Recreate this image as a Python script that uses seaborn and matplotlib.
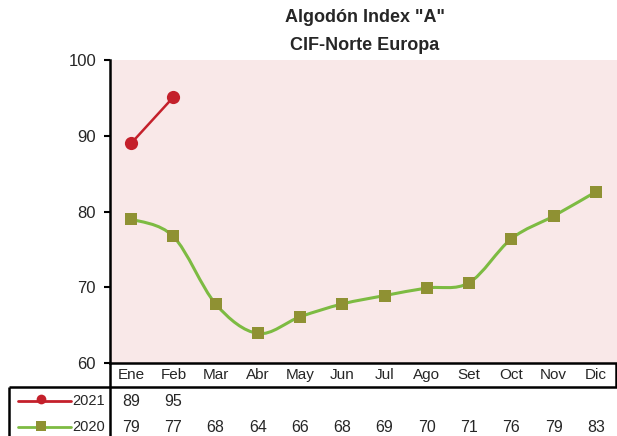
import numpy as np
import pandas as pd
import matplotlib
matplotlib.use("Agg")
import matplotlib.pyplot as plt
import seaborn as sns
from matplotlib.path import Path
from matplotlib.patches import PathPatch
from matplotlib.lines import Line2D
from matplotlib.transforms import blended_transform_factory

# datos
meses = ['Ene', 'Feb', 'Mar', 'Abr', 'May', 'Jun', 'Jul', 'Ago', 'Set', 'Oct', 'Nov', 'Dic']
valores_2021 = [89.0, 95.1]
valores_2020 = [79.0, 76.7, 67.8, 63.9, 66.1, 67.8, 68.9, 69.9, 70.6, 76.4, 79.4, 82.6]
tabla_2021 = ['89', '95']
tabla_2020 = ['79', '77', '68', '64', '66', '68', '69', '70', '71', '76', '79', '83']
series = ['2021', '2020']
yticks = [60, 70, 80, 90, 100]

ROJO = '#C4202B'
VERDE = '#7DBB42'
OLIVA = '#8F9133'
ROSA = '#F9E8E8'

sns.set_style("white")
plt.rcParams['font.family'] = ['Liberation Sans Narrow', 'Liberation Sans', 'DejaVu Sans']

W, H = 617, 436
fig = plt.figure(figsize=(W / 100, H / 100), dpi=100)
fig.patch.set_facecolor('white')

def fy(ypx):
    return 1 - ypx / H

def fx(xpx):
    return xpx / W

ax = fig.add_axes([fx(110), fy(363), fx(617) - fx(110), fy(60) - fy(363)])
ax.set_facecolor(ROSA)

df20 = pd.DataFrame({'x': np.arange(len(meses)), 'v': valores_2020})
df21 = pd.DataFrame({'x': np.arange(len(valores_2021)), 'v': valores_2021})

# curva suavizada (bezier tipo Excel) para 2020
pts = df20[['x', 'v']].to_numpy()
n = len(pts)
verts = [pts[0]]
codes = [Path.MOVETO]
for i in range(n - 1):
    p0 = pts[max(i - 1, 0)]
    p1 = pts[i]
    p2 = pts[i + 1]
    p3 = pts[min(i + 2, n - 1)]
    c1 = p1 + (p2 - p0) / 6
    c2 = p2 - (p3 - p1) / 6
    verts += [c1, c2, p2]
    codes += [Path.CURVE4] * 3
ax.add_patch(PathPatch(Path(verts, codes), facecolor='none', edgecolor=VERDE, lw=2.2, zorder=2))
sns.scatterplot(data=df20, x='x', y='v', ax=ax, marker='s', s=75, color=OLIVA,
                edgecolor=OLIVA, linewidth=0, zorder=3, legend=False)

sns.lineplot(data=df21, x='x', y='v', ax=ax, color=ROJO, lw=1.8, marker='o',
             markersize=9.5, markeredgewidth=0, zorder=3, legend=False)

ax.set_xlim(-0.5, len(meses) - 0.5)
ax.set_ylim(60, 100)
ax.set_yticks(yticks)
ax.set_yticklabels([str(t) for t in yticks], fontsize=12)
ax.set_xticks([])
ax.set_xlabel('')
ax.set_ylabel('')
ax.tick_params(axis='y', direction='out', length=4, width=1.5, color='black', pad=6, left=True)
for s in ['top', 'right']:
    ax.spines[s].set_visible(False)
ax.spines['left'].set_color('black')
ax.spines['left'].set_linewidth(1.8)
ax.spines['bottom'].set_color('black')
ax.spines['bottom'].set_linewidth(1.8)

fig.text(fx(365), fy(18), 'Algodón Index "A"', ha='center', va='center', fontsize=13, fontweight='bold')
fig.text(fx(365), fy(46), 'CIF-Norte Europa', ha='center', va='center', fontsize=13, fontweight='bold')

# tabla de datos bajo el eje
tr = blended_transform_factory(ax.transData, fig.transFigure)
for i, m in enumerate(meses):
    fig.text(i, fy(375), m, transform=tr, ha='center', va='center', fontsize=11)
for i, t in enumerate(tabla_2021):
    fig.text(i, fy(401), t, transform=tr, ha='center', va='center', fontsize=11.5)
for i, t in enumerate(tabla_2020):
    fig.text(i, fy(427), t, transform=tr, ha='center', va='center', fontsize=11.5)

# lineas de la tabla
lk = dict(color='black', lw=1.8, transform=fig.transFigure, solid_capstyle='butt')
fig.add_artist(Line2D([fx(110), fx(110)], [fy(363), fy(436)], **lk))
fig.add_artist(Line2D([fx(9), fx(617)], [fy(387), fy(387)], **lk))
fig.add_artist(Line2D([fx(9), fx(9)], [fy(387), fy(436)], **lk))
fig.add_artist(Line2D([fx(616), fx(616)], [fy(363), fy(387)], **lk))

# claves de leyenda
for nombre, yy, col, mk, mcol, ms in [(series[0], 401, ROJO, 'o', ROJO, 7),
                                      (series[1], 427, VERDE, 's', OLIVA, 7.5)]:
    fig.add_artist(Line2D([fx(18), fx(71)], [fy(yy), fy(yy)], color=col, lw=2,
                          transform=fig.transFigure))
    fig.add_artist(Line2D([fx(41)], [fy(yy - 2 if mk == 'o' else yy - 1)], marker=mk, color=mcol,
                          markersize=ms, markeredgewidth=0, transform=fig.transFigure))
    fig.text(fx(105), fy(yy), nombre, ha='right', va='center', fontsize=10.5)

fig.savefig('out.png', dpi=100)
